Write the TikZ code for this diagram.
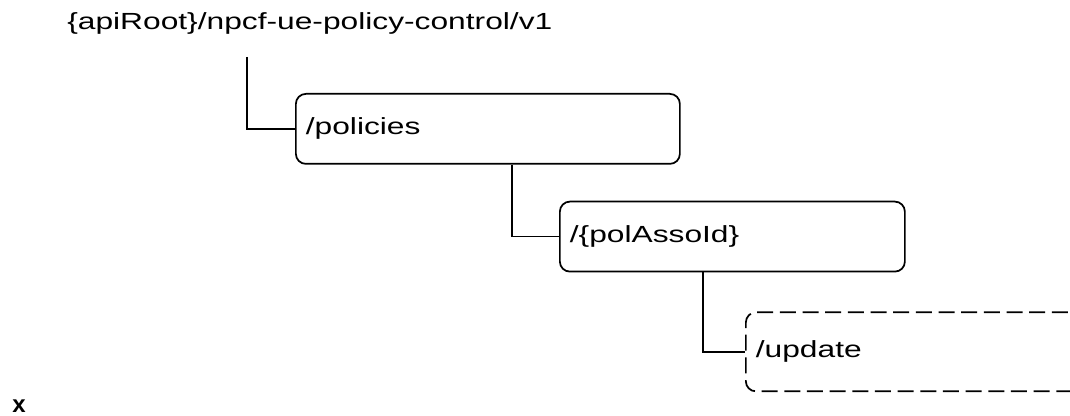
\documentclass[tikz,border=0pt]{standalone}
\usepackage{fontspec}
\setmainfont{Liberation Sans}
\usepackage{graphicx}
\usetikzlibrary{positioning}

% texto ensanchado como en la figura original
\newcommand{\wide}[1]{\scalebox{1.36}[1]{#1}}

\begin{document}
\begin{tikzpicture}[
        x=0.75pt, y=-0.75pt,
        % Estilo para la raiz
        roottext/.style={
                font=\fontsize{17.5}{20}\selectfont,
                inner sep=0pt
            },
        % Estilo para los recursos
        pathbox/.style={
                rectangle,
                rounded corners=7.5pt,
                draw=black,
                line width=1.3pt,
                minimum height=52.5pt,
                inner xsep=7.5pt,
                inner ysep=0pt,
                align=left,
                font=\fontsize{17.5}{20}\selectfont
            },
        % Recurso opcional
        optbox/.style={
                pathbox,
                dash pattern=on 12pt off 5pt,
                minimum height=59.25pt
            },
        % Conectores
        link/.style={
                line width=1.3pt,
                color=black
            }
    ]
    \useasboundingbox (0,0) rectangle (1070,416);

    % Raiz del API
    \node[roottext, anchor=base west] (root) at (67,29.5) {\wide{\{apiRoot\}/npcf-ue-policy-control/v1}};
    \coordinate (rootstub) at (247,57);

    % Recursos
    \node[pathbox, text width=273pt, below right=27pt and 36pt of rootstub] (policies) {\wide{/policies}};

    \node[pathbox, text width=243.75pt, below right=27pt and 198pt of policies.south west] (polasso) {\wide{/\{polAssoId\}}};

    \begin{scope}
        \clip (0,0) rectangle (1070,416);
        \node[optbox, text width=285pt, below right=29.25pt and 139.5pt of polasso.south west] (update) {\wide{/update}};
    \end{scope}

    % Conectores
    \draw[link] (rootstub) |- (policies.west);
    \draw[link] ([xshift=162.75pt]policies.south west) |- (polasso.west);
    \draw[link] ([xshift=108pt]polasso.south west) |- (update.west);

    % Marca
    \node[font=\bfseries\fontsize{18}{20}\selectfont, anchor=base west, inner sep=0pt] (mark) at (12,412) {x};

\end{tikzpicture}
\end{document}
